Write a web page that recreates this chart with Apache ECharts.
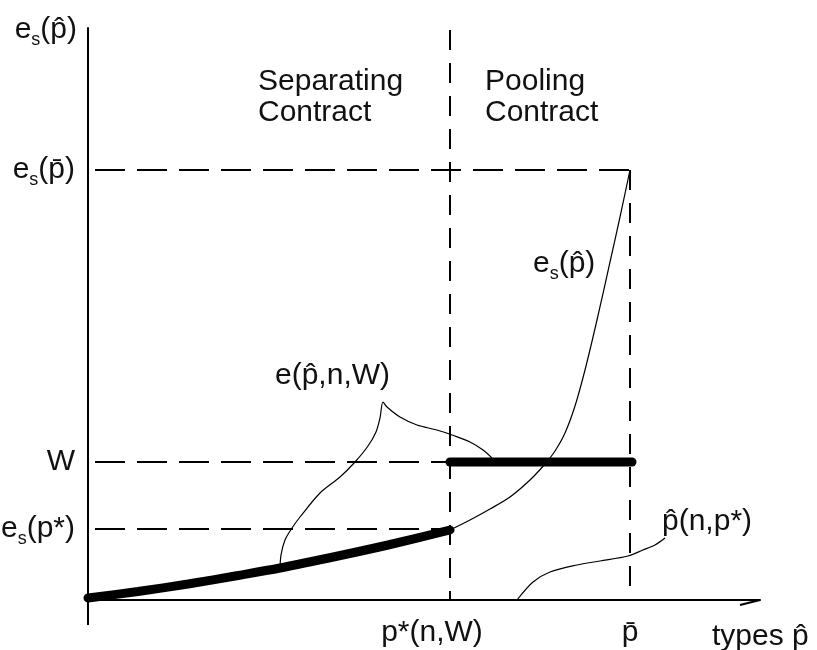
<!DOCTYPE html>
<html><head><meta charset="utf-8">
<script src="https://cdn.jsdelivr.net/npm/echarts@6/dist/echarts.min.js"></script>
<style>html,body{margin:0;padding:0;background:#fff}#c{width:817px;height:650px}</style>
</head><body><div id="c"></div>
<script>
// ---- data (chart units: 1 unit = 100 px of the original drawing scale) ----
const HAT = 'p\u0302';
const BAR = 'p\u0304';

const xTickValues = [3.62, 5.42];
const xTickLabels = ['{ps|p*(n,W)}', '{t|' + BAR + '}'];
const yTickValues = [0.71, 1.38, 4.30];
const yTickLabels = ['{t|e}{s|s}{t|(p*)}', '{t|W}', '{t|e}{s|s}{t|(' + BAR + ')}'];

// thick separating contract e(p,n,W) for p < p*
const separatingX = [0, 0.5, 1.0, 1.5, 1.92, 2.5, 3.0, 3.62];
const separatingY = [0.02, 0.085, 0.16, 0.245, 0.32, 0.44, 0.55, 0.70];
// thick pooling contract at W
const poolingX = [3.62, 5.44];
const poolingY = [1.38, 1.38];
// e_s(p) for p > p*
const esX = [3.62, 3.82, 4.02, 4.22, 4.42, 4.57, 4.67, 4.77, 4.87, 4.97, 5.09, 5.22, 5.32, 5.42];
const esY = [0.70, 0.80, 0.91, 1.03, 1.20, 1.36, 1.49, 1.67, 1.94, 2.30, 2.80, 3.38, 3.83, 4.30];
// leader curve to label e(p,n,W)
const leaderEX = [1.92, 1.93, 1.97, 2.04, 2.12, 2.32, 2.52, 2.67, 2.80, 2.88, 2.92, 2.95, 2.99, 3.12, 3.29, 3.49, 3.67, 3.82, 3.95, 4.04];
const leaderEY = [0.31, 0.45, 0.60, 0.72, 0.83, 1.07, 1.23, 1.38, 1.54, 1.68, 1.82, 1.98, 1.93, 1.83, 1.75, 1.70, 1.64, 1.58, 1.50, 1.42];
// leader curve to label p(n,p*)
const leaderPX = [4.29, 4.45, 4.62, 4.89, 5.12, 5.40, 5.55, 5.67, 5.77];
const leaderPY = [0.00, 0.18, 0.28, 0.35, 0.39, 0.44, 0.50, 0.55, 0.62];
// dashed guide lines
const guideTopX = [0.07, 5.42], guideTopY = [4.30, 4.30];
const guideWX = [0.07, 3.62], guideWY = [1.38, 1.38];
const guidePsX = [0.07, 3.62], guidePsY = [0.71, 0.71];
const guidePstarX = [3.62, 3.62], guidePstarY = [5.70, 0];
const guidePbarX = [5.42, 5.42], guidePbarY = [4.30, 0];
// axis overhangs past the origin and arrow barbs at axis ends
const overhangXX = [-0.2, 0], overhangXY = [0, 0];
const overhangYX = [0, 0], overhangYY = [-0.25, 0];
const barbXX = [6.52, 6.72], barbXY = [-0.05, 0.0];
const barbYX = [-0.06, -0.01], barbYY = [5.50, 5.72];

const zip = (xs, ys) => xs.map((x, i) => [x, ys[i]]);
const FONT = '"Liberation Sans", Arial, sans-serif';
const INK = '#111';

function pick(vals, labels, v) {
  let best = 0;
  vals.forEach((t, i) => { if (Math.abs(t - v) < Math.abs(vals[best] - v)) best = i; });
  return labels[best];
}

const richAxis = {
  t: { fontSize: 30, fontFamily: FONT, color: INK, lineHeight: 34 },
  s: { fontSize: 18, fontFamily: FONT, color: INK, lineHeight: 34, padding: [20, 0, 0, 0] },
  ps: { fontSize: 30, fontFamily: FONT, color: INK, lineHeight: 34, padding: [0, 36, 0, 0] }
};
const richG = {
  t: { fontSize: 30, fontFamily: FONT, fill: INK, lineHeight: 34 },
  s: { fontSize: 18, fontFamily: FONT, fill: INK, lineHeight: 34, padding: [20, 0, 0, 0] }
};

function lineSeries(xs, ys, width, dash, z, smooth) {
  return {
    type: 'line', data: zip(xs, ys), showSymbol: false, symbol: 'none',
    smooth: smooth || false, silent: true, z: z,
    clip: false,
    lineStyle: { color: '#000', width: width, type: dash || 'solid', cap: width > 3 ? 'round' : 'butt' }
  };
}

const chart = echarts.init(document.getElementById('c'), null, { renderer: 'canvas' });
chart.setOption({
  animation: false,
  backgroundColor: '#fff',
  grid: { left: 88, top: 28, width: 672, height: 572, containLabel: false, outerBoundsMode: 'none' },
  xAxis: {
    type: 'value', min: 0, max: 6.72,
    splitLine: { show: false }, axisTick: { show: false },
    axisLine: { onZero: false, lineStyle: { color: '#000', width: 2 } },
    axisLabel: {
      customValues: xTickValues, margin: 16, hideOverlap: false,
      formatter: v => pick(xTickValues, xTickLabels, v), rich: richAxis
    },
    name: '{t|types ' + HAT + '}', nameLocation: 'end', nameGap: -48,
    nameTextStyle: { align: 'left', verticalAlign: 'middle', padding: [74, 0, 0, 0], rich: richAxis }
  },
  yAxis: {
    type: 'value', min: 0, max: 5.72,
    splitLine: { show: false }, axisTick: { show: false },
    axisLine: { onZero: false, lineStyle: { color: '#000', width: 2 } },
    axisLabel: {
      customValues: yTickValues, margin: 13, hideOverlap: false,
      formatter: v => pick(yTickValues, yTickLabels, v), rich: richAxis
    },
    name: '{t|e}{s|s}{t|(' + HAT + ')}', nameLocation: 'end', nameGap: -2,
    nameTextStyle: { align: 'right', verticalAlign: 'middle', padding: [0, 11, 0, 0], rich: richAxis }
  },
  series: [
    lineSeries(guideTopX, guideTopY, 2, [30, 12], 2),
    lineSeries(guideWX, guideWY, 2, [30, 12], 2),
    lineSeries(guidePsX, guidePsY, 2, [30, 12], 2),
    lineSeries(guidePstarX, guidePstarY, 2, [20, 13], 2),
    lineSeries(guidePbarX, guidePbarY, 2, [20, 13], 2),
    lineSeries(esX, esY, 1.2, null, 3, 0.3),
    lineSeries(leaderEX, leaderEY, 1.2, null, 3, 0.3),
    lineSeries(leaderPX, leaderPY, 1.2, null, 3, 0.3),
    lineSeries(separatingX, separatingY, 9, null, 4, 0.3),
    lineSeries(poolingX, poolingY, 9, null, 4),
    lineSeries(overhangXX, overhangXY, 2, null, 3),
    lineSeries(overhangYX, overhangYY, 2, null, 3),
    lineSeries(barbXX, barbXY, 2, null, 3),
    lineSeries(barbYX, barbYY, 2, null, 3)
  ],
  graphic: [
    { type: 'text', x: 258, y: 66, silent: true,
      style: { text: 'Separating\nContract', font: '30px ' + FONT, fill: INK, lineHeight: 31, align: 'left', verticalAlign: 'top' } },
    { type: 'text', x: 485, y: 66, silent: true,
      style: { text: 'Pooling\nContract', font: '30px ' + FONT, fill: INK, lineHeight: 31, align: 'left', verticalAlign: 'top' } },
    { type: 'text', x: 275, y: 376, silent: true,
      style: { text: '{t|e(' + HAT + ',n,W)}', rich: richG, align: 'left', verticalAlign: 'middle' } },
    { type: 'text', x: 533, y: 264, silent: true,
      style: { text: '{t|e}{s|s}{t|(' + HAT + ')}', rich: richG, align: 'left', verticalAlign: 'middle' } },
    { type: 'text', x: 662, y: 522, silent: true,
      style: { text: '{t|' + HAT + '(n,p*)}', rich: richG, align: 'left', verticalAlign: 'middle' } }
  ]
});
</script>
</body></html>
